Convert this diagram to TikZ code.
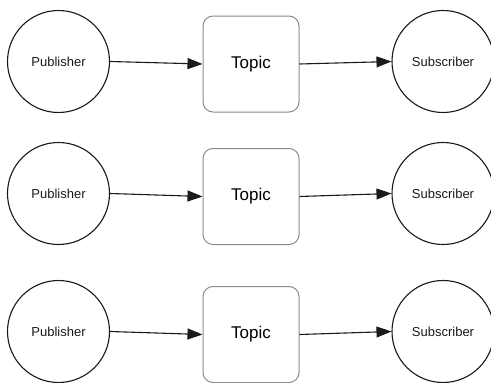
\documentclass[tikz,border=0pt]{standalone}
\usepackage{fontspec}
\setmainfont{Liberation Sans}
\usetikzlibrary{arrows.meta}
\definecolor{ink}{HTML}{1A1A1A}
\definecolor{boxline}{HTML}{8C8C8C}
\tikzset{
  actor/.style={circle, draw=ink, line width=1.1pt, minimum size=102pt, inner sep=0pt, text=ink, font=\fontsize{13}{15}\selectfont},
  topicbox/.style={rectangle, rounded corners=10pt, draw=boxline, line width=1pt, minimum width=96pt, minimum height=96pt, inner sep=0pt, text=black, font=\fontsize{17}{20}\selectfont},
  flow/.style={draw=ink, line width=1.1pt, -{Triangle[length=15pt,width=11pt]}}
}
\begin{document}
\begin{tikzpicture}[x=1pt,y=-1pt]
\clip (0,0) rectangle (491,383);
\fill[white] (0,0) rectangle (491,383);
% row 1
\node[actor] (p1) at (58.5,61.5) {Publisher};
\node[topicbox] (t1) at (251,64) {Topic};
\node[actor] (s1) at (443,61.5) {Subscriber};
% row 2
\node[actor] (p2) at (58.5,193.5) {Publisher};
\node[topicbox] (t2) at (251,196.5) {Topic};
\node[actor] (s2) at (443,193.5) {Subscriber};
% row 3
\node[actor] (p3) at (58.5,331.5) {Publisher};
\node[topicbox] (t3) at (251,334.5) {Topic};
\node[actor] (s3) at (443,331.5) {Subscriber};
\foreach \i in {1,2,3}{
  \draw[flow] (p\i.east) -- (t\i.west);
  \draw[flow] (t\i.east) -- (s\i.west);
}
\end{tikzpicture}
\end{document}
